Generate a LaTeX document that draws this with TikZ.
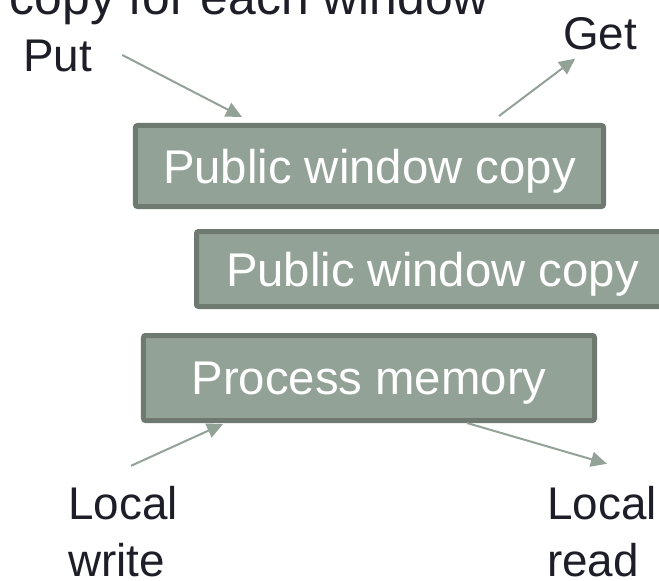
\documentclass[tikz,border=0pt]{standalone}
\usepackage{fontspec}
\setmainfont{Liberation Sans}
\usetikzlibrary{arrows.meta}
\definecolor{sage}{HTML}{93A297}
\definecolor{sagedark}{HTML}{6E7A70}
\definecolor{ink}{HTML}{1E1E28}

\begin{document}
\begin{tikzpicture}[x=1bp,y=-1bp,text=ink,winbox/.style={rounded corners=2bp,draw=sagedark,fill=sage,line width=5bp,text=white,text depth=0pt,font=\fontsize{47.5}{48}\selectfont},lbl/.style={inner sep=0pt,font=\fontsize{46}{57}\selectfont,align=left},arrow/.style={-{Triangle[length=16bp,width=15bp]},line width=2bp,sage}]
 \useasboundingbox (0,0) rectangle (659,581);
 \node[lbl,font=\fontsize{50}{50}\selectfont,anchor=base east] (title) at (489,15) {copy for each window};
 \node[winbox,minimum width=468bp,minimum height=81bp] (pub1) at (369.5,166) {Public window copy};
 \node[winbox,minimum width=472bp,minimum height=75bp] (pub2) at (432.5,269) {Public window copy};
 \node[winbox,minimum width=451bp,minimum height=85bp] (mem) at (369,378) {Process memory};
 \node[lbl,anchor=base west] (put) at (23,72) {Put}; \node[lbl,anchor=base west] (get) at (563,50) {Get};
 \node[lbl,anchor=base west] (lwrite) at (68,576) {Local\\write};
 \node[lbl,anchor=base west] (lread) at (547,576) {Local\\read};
 \draw[arrow] ([xshift=30bp,yshift=1.5bp]put.east) -- ([xshift=109bp,yshift=6bp]pub1.north west);
 \draw[arrow] ([xshift=-107bp,yshift=7bp]pub1.north east) -- ([xshift=-25bp,yshift=-8bp]get.south);
 \draw[arrow] ([xshift=63bp,yshift=20bp]lwrite.north west) -- ([xshift=82bp,yshift=-1bp]mem.south west);
 \draw[arrow] ([xshift=-130bp]mem.south east) -- ([xshift=5bp,yshift=22bp]lread.north);
\end{tikzpicture}
\end{document}
